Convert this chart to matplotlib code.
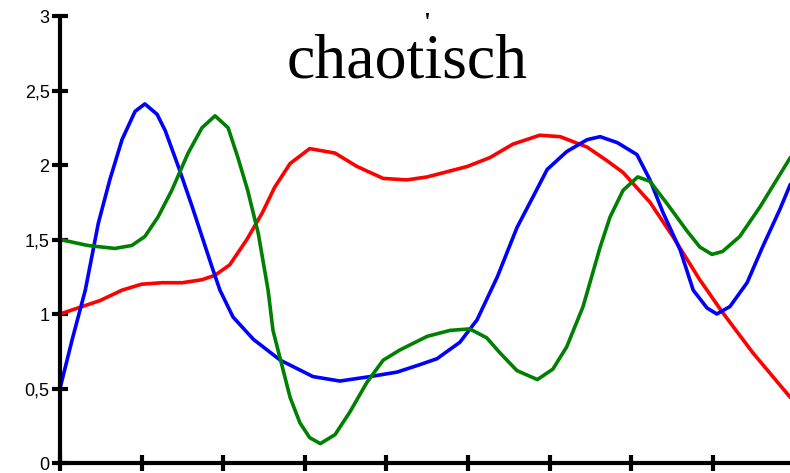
import matplotlib
matplotlib.use("Agg")
import matplotlib.pyplot as plt

title = "chaotisch"
y_ticks = [0, 0.5, 1, 1.5, 2, 2.5, 3]
y_tick_labels = ["0", "0,5", "1", "1,5", "2", "2,5", "3"]
x_ticks = [0, 1, 2, 3, 4, 5, 6, 7, 8]

# red series (x in category units, y values)
red_x = [0.0, 0.49, 0.76, 1.00, 1.25, 1.50, 1.74, 1.90, 2.08, 2.29, 2.48, 2.63, 2.82, 3.06, 3.37, 3.64, 3.96, 4.25, 4.50, 4.99, 5.27, 5.55, 5.88, 6.13, 6.46, 6.70, 6.90, 7.23, 7.51, 7.84, 8.12, 8.49, 8.95]
red_y = [1.00, 1.09, 1.16, 1.20, 1.21, 1.21, 1.23, 1.26, 1.33, 1.50, 1.68, 1.85, 2.01, 2.11, 2.08, 1.99, 1.91, 1.90, 1.92, 1.99, 2.05, 2.14, 2.20, 2.19, 2.12, 2.03, 1.95, 1.75, 1.52, 1.23, 1.01, 0.74, 0.44]

# blue series
blue_x = [0.0, 0.15, 0.31, 0.47, 0.61, 0.76, 0.92, 1.04, 1.19, 1.29, 1.45, 1.62, 1.74, 1.86, 1.96, 2.12, 2.37, 2.70, 3.10, 3.43, 3.80, 4.13, 4.41, 4.62, 4.90, 5.11, 5.36, 5.60, 5.80, 5.97, 6.21, 6.46, 6.62, 6.83, 7.07, 7.23, 7.39, 7.60, 7.76, 7.93, 8.05, 8.21, 8.42, 8.61, 8.82, 8.95]
blue_y = [0.50, 0.83, 1.16, 1.61, 1.90, 2.17, 2.36, 2.41, 2.34, 2.23, 1.99, 1.72, 1.52, 1.32, 1.16, 0.98, 0.83, 0.69, 0.58, 0.55, 0.58, 0.61, 0.66, 0.70, 0.81, 0.96, 1.25, 1.58, 1.79, 1.97, 2.09, 2.17, 2.19, 2.15, 2.07, 1.90, 1.68, 1.43, 1.16, 1.04, 1.00, 1.05, 1.21, 1.45, 1.70, 1.87]

# green series
green_x = [0.0, 0.34, 0.67, 0.88, 1.04, 1.20, 1.37, 1.57, 1.74, 1.90, 2.06, 2.18, 2.30, 2.43, 2.55, 2.61, 2.82, 2.94, 3.06, 3.19, 3.37, 3.55, 3.76, 3.96, 4.17, 4.50, 4.78, 5.02, 5.23, 5.39, 5.60, 5.85, 6.04, 6.21, 6.41, 6.62, 6.74, 6.90, 7.08, 7.23, 7.44, 7.68, 7.84, 7.99, 8.12, 8.33, 8.58, 8.95]
green_y = [1.50, 1.46, 1.44, 1.46, 1.52, 1.65, 1.83, 2.08, 2.25, 2.33, 2.25, 2.05, 1.83, 1.54, 1.16, 0.89, 0.44, 0.27, 0.17, 0.13, 0.19, 0.34, 0.54, 0.69, 0.76, 0.85, 0.89, 0.90, 0.84, 0.74, 0.62, 0.56, 0.63, 0.78, 1.05, 1.45, 1.65, 1.83, 1.92, 1.89, 1.74, 1.56, 1.45, 1.40, 1.42, 1.52, 1.72, 2.05]

fig = plt.figure(figsize=(7.9, 4.73), dpi=100)
ax = fig.add_axes([60 / 790, 10 / 473, 730 / 790, 447 / 473])

for xs, ys, c in [(red_x, red_y, "#ff0000"), (blue_x, blue_y, "#0000ff"),
                  (green_x, green_y, "#008000")]:
    ax.plot(xs, ys, color=c, lw=2.6, solid_capstyle="round",
            solid_joinstyle="round")

ax.set_xlim(0, 8.946)
ax.set_ylim(0, 3)
for s in ["top", "right"]:
    ax.spines[s].set_visible(False)
for s in ["left", "bottom"]:
    ax.spines[s].set_linewidth(3)
    ax.spines[s].set_capstyle("butt")
ax.spines["left"].set_bounds(0, 3)

ax.set_yticks(y_ticks)
ax.set_yticklabels(y_tick_labels, fontfamily="Liberation Sans", fontsize=13)
ax.set_xticks(x_ticks)
ax.set_xticklabels([])
ax.tick_params(axis="both", direction="inout", length=11, width=3, pad=3)
ax.tick_params(axis="y", pad=2)

fig.text(407 / 790, 1 - 63 / 473, title, fontfamily="Liberation Serif",
         fontsize=46, ha="center", va="center")
fig.text(427 / 790, 1 - 30 / 473, "'", fontfamily="Liberation Serif",
         fontsize=18, fontweight="bold", ha="center", va="baseline")

fig.savefig("out.png", dpi=100)
